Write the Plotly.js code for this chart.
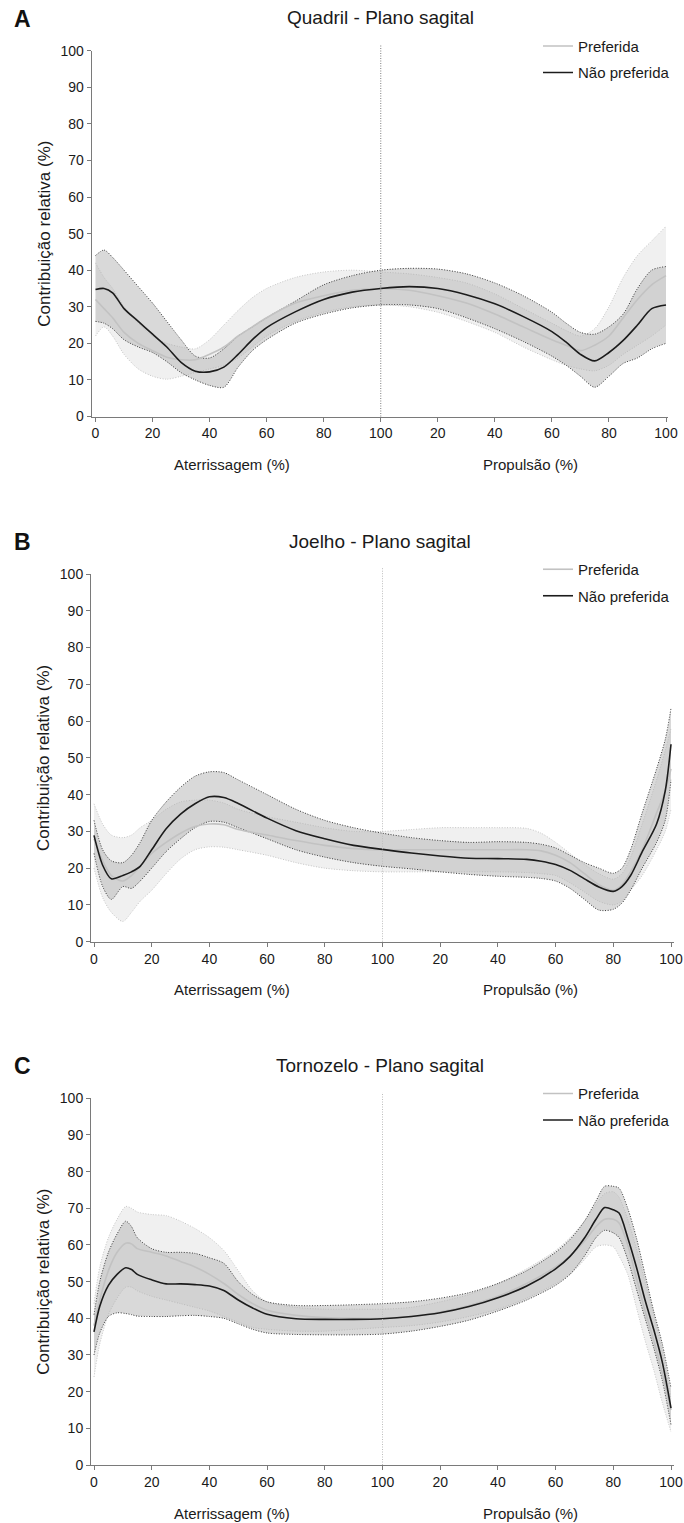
<!DOCTYPE html>
<html>
<head>
<meta charset="utf-8">
<script src="https://cdn.plot.ly/plotly-3.0.1.min.js"></script>
<style>
html,body{margin:0;padding:0;background:#ffffff;}
#chart{width:684px;height:1523px;}
</style>
</head>
<body>
<div id="chart"></div>
<script>
// ---------------- DATA ----------------
// x: 0–100 = Aterrissagem (%), 100–200 = Propulsão (%) (second phase shown as 0–100)
const tickValues = [0, 20, 40, 60, 80, 100, 120, 140, 160, 180, 200];
const tickLabels = ['0', '20', '40', '60', '80', '100', '20', '40', '60', '80', '100'];
const yTickValues = [0, 10, 20, 30, 40, 50, 60, 70, 80, 90, 100];
const phaseBoundary = 100;
const seriesNames = ['Preferida', 'Não preferida'];
const phaseLabels = ['Aterrissagem (%)', 'Propulsão (%)'];
const yTitle = 'Contribuição relativa (%)';

// A – Quadril
const hipX = [0,3,6,10,15,20,25,30,35,40,45,50,55,60,70,80,90,100,110,120,130,140,150,160,165,170,175,180,185,190,195,200];
const hipPrefMean  = [32,29.5,27,23,20,18,16.2,15.5,15.5,17,19,22,24.5,27,31,33,34.5,35,34.5,33,31,28,24.5,21,19.5,18,19.5,22,27,32,36,38.5];
const hipPrefUpper = [42,38,35,30,25.5,22,20,19,18.5,21,25,29,32.5,35,38,39.5,40,39.5,39,38,36.5,33.5,29.5,25.5,23.5,22,24,30,38,44,48,52];
const hipPrefLower = [22,24.5,22,17,13,11,10.2,11,12,13,14,16,19,22,26,28.5,30,30.5,30,28.5,26,23,19,15.5,14,13,12.5,14,17,19.5,22,25];
const hipNonPrefMean  = [34.7,35,33.8,29.5,26,22.5,19,14.8,12.4,12.2,13.5,17,21,24.3,28.6,32,34,35,35.5,35,33.3,30.8,27.3,23.2,20.3,17,15.2,17.5,20.8,25,29.5,30.5];
const hipNonPrefUpper = [44,45.5,43.5,40,35.5,31,26,21,16.5,16,18.5,22,24.5,27,31.5,36,38.5,40,40.5,40.3,39,36.5,33,28.5,25.5,23,22.5,24.5,28,35,40,41];
const hipNonPrefLower = [26,25.5,24,21,19,17.5,15,12,10,8.5,8,13.5,18,21,25.5,28,29.7,30.5,30.5,29.5,27,24,20.5,16.5,14,11,8,11,14.5,16,18.5,20];

// B – Joelho
const kneeX = [0,3,6,10,13,16,20,25,30,35,40,45,50,60,70,80,90,100,110,120,130,140,150,155,160,165,170,175,180,183,186,190,195,198,200];
const kneePrefMean  = [28,22,18,16.5,18,20.5,24,27,29.5,31.3,32,31.8,30.5,29,27.5,26.2,25.3,25,25,25,25,25,25,24.7,23.5,21.5,18.5,15.5,14,15.5,19,25,35,41,47];
const kneePrefUpper = [37.5,32,29,28.3,29,31,33,36,38,38.5,38.5,37.7,36,34,32.5,31,30,30,30.5,31,31,31,30.8,29.5,27,24,21,18.5,17,18.5,23,32,44,52,58];
const kneePrefLower = [20,12,8,5.5,8,11,14,18.5,22.5,25,25.8,25.7,25,23.5,21.5,20,19.3,19,19,19,19,19,18.8,18.5,18,16,13.5,11,10,11,14,18,25,30,36];
const kneeNonPrefMean  = [28.9,20.8,17.1,18,19,20.5,25,30.7,34.7,37.5,39.4,39.2,37.6,33.6,30.2,28,26.2,25.1,24.1,23.3,22.7,22.6,22.4,21.9,21,19.4,17.1,14.9,13.7,15,18,24.4,32,41,53.7];
const kneeNonPrefUpper = [33,25,22,21.5,23.5,27,33,38,42,45,46.2,46,44,40,36,33,31,29.5,28.3,27.5,27,27.2,27,26.5,25.5,23.5,21.5,20,18.6,20,25,35,47,55,63.5];
const kneeNonPrefLower = [24,15,11.5,15,14.5,16.5,20,24.5,28,31,32.7,32.5,31,28,25,23,21.5,20.5,19.8,19,18.3,17.8,17.5,17.2,16.5,14.5,11.5,8.6,8.8,10.5,14,20,27,33,44];

// C – Tornozelo
const ankleX = [0,2,5,8,11,13,15,20,25,30,35,40,45,50,55,60,70,80,90,100,110,120,130,140,150,160,165,170,174,177,180,182,185,188,191,194,197,200];
const anklePrefMean  = [38,45,53,58,60.5,60.3,59,58,57,55.5,54,52,49.5,46.5,44,42.2,40.8,40.2,40,40,40.5,41.7,43.5,46,49.5,54,57,61,65,67,67,66,60,51,42,34,25,15];
const anklePrefUpper = [44,54,62,67,70.5,70,69,68.3,68,66.5,64.5,62,58.5,53,47.5,44.5,43,42.5,42.5,42.5,43,44.5,46.5,49.5,53.5,58.5,62,66.5,71,74,74.5,73,67,59,50,41,31,18];
const anklePrefLower = [24,33,41,45.5,48.5,48.5,47.5,46,45,44,43,42,40.5,39,37.5,37,36.5,36.5,37,37.5,38,39,40.5,42.5,45.5,49.5,52,56,59.5,60,59.5,57,52,43,34,26,17,9];
const ankleNonPrefMean  = [36.3,43.3,49,52,53.8,53.3,52,50.5,49.4,49.4,49.2,48.8,47.6,45,42.8,41.1,39.9,39.7,39.7,39.9,40.5,41.5,43.2,45.6,48.8,53.5,56.9,61.9,67,70.2,69.6,68.7,62,54,45,37,28,15.5];
const ankleNonPrefUpper = [41,50,58,63,66.5,65,62,59,58,58,57.7,56.5,55,50,46.5,44.5,43.5,43.5,43.7,44,44.5,45.5,47,49.5,53,58,61.5,66.5,72,76,76,75.5,70,62,52,42,33,21];
const ankleNonPrefLower = [30,36,40.5,41.5,41.3,41,40.6,40.5,40.5,40.7,40.8,40.5,40,38.5,37,36,35.6,35.5,35.5,35.7,36.5,37.8,39.5,42,45,49,52,57,62,64,63.3,62,56,48,40,32,23,11];

// ---------------- LAYOUT / STYLE ----------------
const W = 684, H = 1523;
const FONT = 'Liberation Sans, Arial, Helvetica, sans-serif';
const TXT = '#1a1a1a';
const AX = '#7a7a7a';

const panels = [
  {letter:'A', title:'Quadril - Plano sagital', x:hipX,
   pm:hipPrefMean, pu:hipPrefUpper, pl:hipPrefLower, nm:hipNonPrefMean, nu:hipNonPrefUpper, nl:hipNonPrefLower,
   left:91.7, right:668, x0:95.5, x200:666, top:50.7, bottom:416.5, vcolor:'#7c7c7c'},
  {letter:'B', title:'Joelho - Plano sagital', x:kneeX,
   pm:kneePrefMean, pu:kneePrefUpper, pl:kneePrefLower, nm:kneeNonPrefMean, nu:kneeNonPrefUpper, nl:kneeNonPrefLower,
   left:91, right:673.5, x0:94, x200:671, top:574, bottom:941.7, vcolor:'#bdbdbd'},
  {letter:'C', title:'Tornozelo - Plano sagital', x:ankleX,
   pm:anklePrefMean, pu:anklePrefUpper, pl:anklePrefLower, nm:ankleNonPrefMean, nu:ankleNonPrefUpper, nl:ankleNonPrefLower,
   left:91, right:673.5, x0:94, x200:671, top:1098.3, bottom:1465, vcolor:'#bdbdbd'}
];

const traces = [];
const layout = {
  width: W, height: H,
  margin: {l:0, r:0, t:0, b:0},
  paper_bgcolor: '#ffffff', plot_bgcolor: '#ffffff',
  font: {family: FONT, color: TXT},
  annotations: [], shapes: []
};

const prefFill = 'rgba(222,222,222,0.45)';
const nonPrefFill = 'rgba(180,180,180,0.5)';
const prefBorder = '#c4c4c4';
const nonPrefBorder = '#3a3a3a';
const prefLine = '#c2c2c2';
const nonPrefLine = '#1c1c1c';
const DOTS = '1px,1.6px';

panels.forEach((p, i) => {
  const n = i + 1;
  const xa = n === 1 ? 'x' : 'x' + n;
  const ya = n === 1 ? 'y' : 'y' + n;
  const xk = n === 1 ? 'xaxis' : 'xaxis' + n;
  const yk = n === 1 ? 'yaxis' : 'yaxis' + n;
  const lg = n === 1 ? 'legend' : 'legend' + n;
  const ppu = (p.x200 - p.x0) / 200;
  const common = {xaxis: xa, yaxis: ya, mode: 'lines', hoverinfo: 'skip'};
  const sp = {shape:'spline', smoothing:0.8};

  // Preferida band
  traces.push(Object.assign({}, common, {x:p.x, y:p.pl, line:Object.assign({color:prefBorder, width:1, dash:DOTS}, sp), showlegend:false, legend:lg}));
  traces.push(Object.assign({}, common, {x:p.x, y:p.pu, fill:'tonexty', fillcolor:prefFill, line:Object.assign({color:prefBorder, width:1, dash:DOTS}, sp), showlegend:false, legend:lg}));
  // Não preferida band
  traces.push(Object.assign({}, common, {x:p.x, y:p.nl, line:Object.assign({color:nonPrefBorder, width:1, dash:DOTS}, sp), showlegend:false, legend:lg}));
  traces.push(Object.assign({}, common, {x:p.x, y:p.nu, fill:'tonexty', fillcolor:nonPrefFill, line:Object.assign({color:nonPrefBorder, width:1, dash:DOTS}, sp), showlegend:false, legend:lg}));
  // mean lines
  traces.push(Object.assign({}, common, {x:p.x, y:p.pm, name:seriesNames[0], legendgroup:'p'+n, line:Object.assign({color:prefLine, width:1.6}, sp), showlegend:true, legend:lg}));
  traces.push(Object.assign({}, common, {x:p.x, y:p.nm, name:seriesNames[1], legendgroup:'n'+n, line:Object.assign({color:nonPrefLine, width:1.6}, sp), showlegend:true, legend:lg}));

  layout[xk] = {
    domain: [p.left / W, p.right / W],
    range: [-(p.x0 - p.left) / ppu, (p.right - p.x0) / ppu],
    anchor: ya,
    showline: true, linecolor: AX, linewidth: 1,
    ticks: 'outside', ticklen: 4, tickcolor: AX, tickwidth: 1,
    tickvals: tickValues, ticktext: tickLabels,
    tickfont: {size: 14, color: TXT, family: FONT},
    showgrid: false, zeroline: false, fixedrange: true
  };
  layout[yk] = {
    domain: [1 - p.bottom / H, 1 - p.top / H],
    range: [0, 100],
    anchor: xa,
    showline: true, linecolor: AX, linewidth: 1,
    ticks: 'outside', ticklen: 4, tickcolor: AX, tickwidth: 1,
    tickvals: yTickValues,
    tickfont: {size: 14, color: TXT, family: FONT},
    showgrid: false, zeroline: false, fixedrange: true,
    title: {text: yTitle, font: {size: 17, color: TXT, family: FONT}, standoff: 5}
  };
  layout[lg] = {
    x: 538 / W, xanchor: 'left',
    y: 1 - (p.top - 21) / H, yanchor: 'top',
    bgcolor: 'rgba(0,0,0,0)', borderwidth: 0,
    font: {size: 15, color: TXT, family: FONT},
    tracegroupgap: 4, traceorder: 'grouped'
  };

  // dotted phase boundary
  layout.shapes.push({type:'line', xref:xa, yref: ya + ' domain', x0: phaseBoundary, x1: phaseBoundary, y0: 0, y1: 1.016,
    line:{color:p.vcolor, width:1, dash:'1px,1.5px'}, layer:'above'});

  const titleY = p.top - 33;
  layout.annotations.push({text: p.title, xref:'paper', yref:'paper', x: 380 / W, y: 1 - titleY / H,
    xanchor:'center', yanchor:'middle', showarrow:false, font:{size:19, color:TXT, family:FONT}});
  layout.annotations.push({text: '<b>' + p.letter + '</b>', xref:'paper', yref:'paper', x: 22 / W, y: 1 - (titleY + 1) / H,
    xanchor:'center', yanchor:'middle', showarrow:false, font:{size:23, color:'#111', family:FONT}});
  const labY = p.bottom + 48;
  layout.annotations.push({text: phaseLabels[0], xref:'paper', yref:'paper', x: 232 / W, y: 1 - labY / H,
    xanchor:'center', yanchor:'middle', showarrow:false, font:{size:15, color:TXT, family:FONT}});
  layout.annotations.push({text: phaseLabels[1], xref:'paper', yref:'paper', x: 530 / W, y: 1 - labY / H,
    xanchor:'center', yanchor:'middle', showarrow:false, font:{size:15, color:TXT, family:FONT}});
});

Plotly.newPlot('chart', traces, layout, {displayModeBar:false, staticPlot:true});
</script>
</body>
</html>
